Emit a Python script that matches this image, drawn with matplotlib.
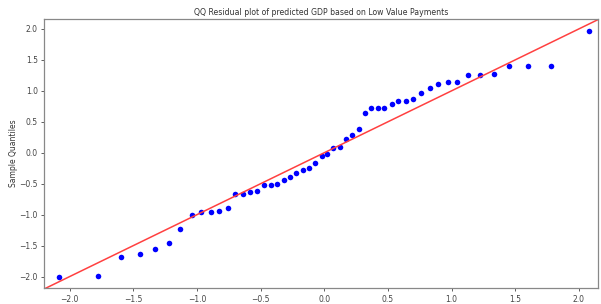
import matplotlib
matplotlib.use("Agg")
import matplotlib.pyplot as plt

# theoretical quantiles (x) and sample quantiles (y)
theoretical = [-2.08, -1.78, -1.60, -1.45, -1.33, -1.22, -1.13, -1.04, -0.97, -0.89,
               -0.83, -0.76, -0.70, -0.64, -0.58, -0.53, -0.47, -0.42, -0.37, -0.32,
               -0.27, -0.22, -0.17, -0.12, -0.07, -0.02,
               0.02, 0.07, 0.12, 0.17, 0.22, 0.27, 0.32, 0.37, 0.42, 0.47,
               0.53, 0.58, 0.64, 0.70, 0.76, 0.83, 0.89, 0.97, 1.04, 1.13,
               1.22, 1.33, 1.45, 1.60, 1.78, 2.08]
sample = [-2.00, -1.99, -1.69, -1.64, -1.55, -1.46, -1.23, -1.00, -0.95, -0.95,
          -0.94, -0.90, -0.67, -0.67, -0.64, -0.62, -0.52, -0.52, -0.50, -0.44,
          -0.39, -0.33, -0.28, -0.24, -0.16, -0.06,
          -0.02, 0.07, 0.10, 0.23, 0.28, 0.38, 0.64, 0.72, 0.72, 0.73,
          0.79, 0.83, 0.83, 0.86, 0.97, 1.04, 1.11, 1.14, 1.15, 1.26,
          1.26, 1.27, 1.40, 1.40, 1.40, 1.96]

xlim = (-2.20, 2.15)
ylim = (-2.19, 2.16)

plt.rcParams['font.family'] = ['DejaVu Sans']
plt.rcParams['font.size'] = 5.5

fig = plt.figure(figsize=(6.01, 3.04), dpi=100)
ax = fig.add_axes([0.0735, 0.0515, 0.9215, 0.886])

ax.plot(theoretical, sample, 'o', color='b', markersize=4, markeredgewidth=0)
# 45 degree reference line across the shared range of both axes
lo = max(xlim[0], ylim[0])
hi = min(xlim[1], ylim[1])
ax.plot([lo, hi], [lo, hi], color='#ff4040', lw=1.1)

ax.set_xlim(*xlim)
ax.set_ylim(*ylim)
ax.set_xticks([-2.0, -1.5, -1.0, -0.5, 0.0, 0.5, 1.0, 1.5, 2.0])
ax.set_yticks([-2.0, -1.5, -1.0, -0.5, 0.0, 0.5, 1.0, 1.5, 2.0])
for s in ax.spines.values():
    s.set_color('#888888')
    s.set_linewidth(0.9)
ax.tick_params(colors='#444444', length=2.5, width=0.6, pad=2, labelsize=5.5)

ax.set_title("QQ Residual plot of predicted GDP based on Low Value Payments",
             fontsize=5.6, color='#333333', pad=3)
ax.set_xlabel("Theoretical Quantiles", color='#333333', labelpad=2)
ax.set_ylabel("Sample Quantiles", color='#333333', labelpad=1)

fig.savefig("out.png", dpi=100)
